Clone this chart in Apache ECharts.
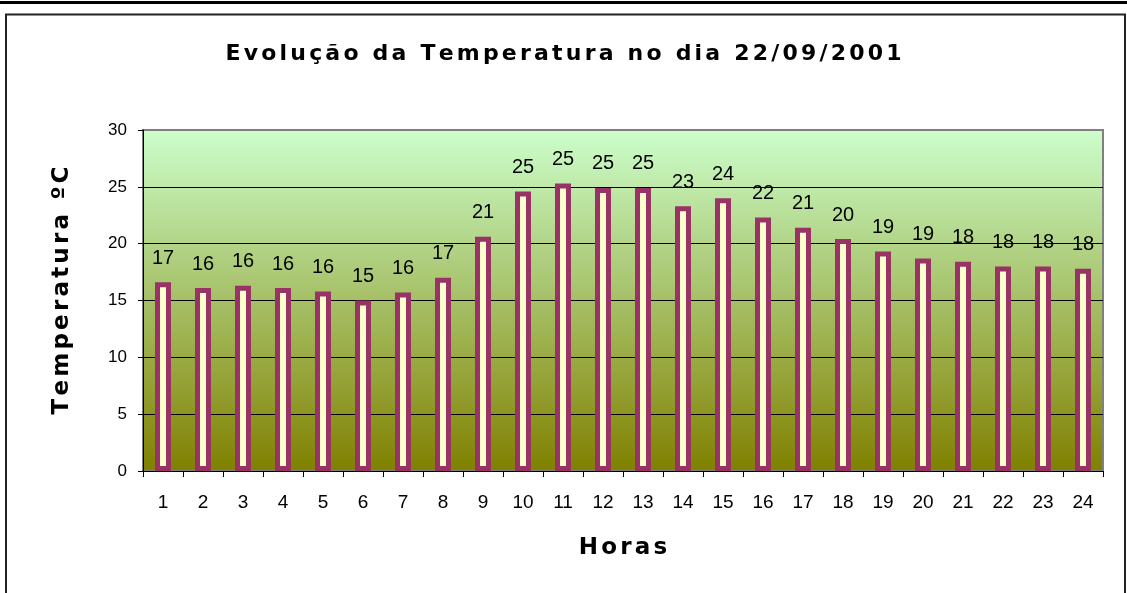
<!DOCTYPE html>
<html>
<head>
<meta charset="utf-8">
<title>Evolução da Temperatura</title>
<script src="https://cdn.jsdelivr.net/npm/echarts@6/dist/echarts.min.js"></script>
<style>
  html, body { margin: 0; padding: 0; background: #fff; }
  #chart { width: 1127px; height: 593px; }
</style>
</head>
<body>
<div id="chart"></div>
<script>
// Hourly temperature readings (ºC) for 22/09/2001
const horas = ['1','2','3','4','5','6','7','8','9','10','11','12','13','14','15','16','17','18','19','20','21','22','23','24'];
const temperaturas = [16.6, 16.1, 16.3, 16.1, 15.8, 15.0, 15.7, 17.0, 20.6, 24.6, 25.3, 24.9, 24.9, 23.3, 24.0, 22.3, 21.4, 20.4, 19.3, 18.7, 18.4, 18.0, 18.0, 17.8];
const yTicks = [0, 5, 10, 15, 20, 25, 30];

const tituloTexto = 'Evolução da Temperatura no dia 22/09/2001';
const eixoYTexto = 'Temperatura ºC';
const eixoXTexto = 'Horas';

const HEAD_FONT = '"DejaVu Sans", Verdana, sans-serif';
const NUM_FONT = '"Liberation Sans", Arial, Helvetica, sans-serif';

// Wrap every character in a rich-text token so padding can widen the tracking
function tracked(str, style) {
  return str.split('').map(ch => '{' + style + '|' + ch + '}').join('');
}

const chart = echarts.init(document.getElementById('chart'), null, { renderer: 'canvas' });

chart.setOption({
  animation: false,
  backgroundColor: '#ffffff',
  textStyle: { fontFamily: NUM_FONT, color: '#000' },
  graphic: [
    // heavy rule across the top
    { type: 'rect', left: 0, top: 1, shape: { x: 0, y: 0, width: 1127, height: 3 }, style: { fill: '#000' }, silent: true },
    // frame around the chart
    { type: 'rect', shape: { x: 6, y: 14.5, width: 1119, height: 600 }, style: { fill: 'none', stroke: '#222', lineWidth: 2 }, silent: true, z: -1 }
  ],
  title: {
    text: tracked(tituloTexto, 't'),
    left: 'center',
    top: 38,
    textStyle: {
      rich: { t: { fontFamily: HEAD_FONT, fontSize: 22, fontWeight: 'bold', color: '#000', padding: [0, 1.6] } }
    }
  },
  grid: {
    left: 143,
    right: 24,
    top: 130,
    bottom: 122,
    show: true,
    borderColor: '#808080',
    borderWidth: 2,
    backgroundColor: new echarts.graphic.LinearGradient(0, 0, 0, 1, [
      { offset: 0, color: '#ccffcc' },
      { offset: 1, color: '#808000' }
    ])
  },
  xAxis: {
    type: 'category',
    data: horas,
    name: tracked(eixoXTexto, 'x'),
    nameLocation: 'middle',
    nameGap: 66,
    nameTextStyle: {
      rich: { x: { fontFamily: HEAD_FONT, fontSize: 23, fontWeight: 'bold', color: '#000', padding: [0, 1.6] } }
    },
    axisLine: { lineStyle: { color: '#000', width: 1 } },
    axisTick: { show: true, length: 6, lineStyle: { color: '#000' } },
    axisLabel: { fontFamily: NUM_FONT, fontSize: 19, color: '#000', margin: 22 },
    splitLine: { show: false }
  },
  yAxis: {
    type: 'value',
    min: yTicks[0],
    max: yTicks[yTicks.length - 1],
    interval: yTicks[1] - yTicks[0],
    name: tracked(eixoYTexto, 'y'),
    nameLocation: 'middle',
    nameGap: 69,
    nameTextStyle: {
      padding: [0, 0, 0, 20],
      rich: { y: { fontFamily: HEAD_FONT, fontSize: 23, fontWeight: 'bold', color: '#000', padding: [0, 1.6] } }
    },
    axisLine: { show: true, lineStyle: { color: '#000', width: 1 } },
    axisTick: { show: true, length: 5, lineStyle: { color: '#000' } },
    axisLabel: { fontFamily: NUM_FONT, fontSize: 17, color: '#000', margin: 16 },
    splitLine: {
      show: true,
      lineStyle: { color: ['#000', '#000', '#000', '#000', '#000', '#000', '#808080'], width: 1 }
    }
  },
  series: [{
    type: 'bar',
    data: temperaturas,
    barWidth: 16,
    itemStyle: { color: '#ffffcc', borderColor: '#993366', borderWidth: 5 },
    label: {
      show: true,
      position: 'top',
      distance: 14,
      fontFamily: NUM_FONT,
      fontSize: 20,
      color: '#000',
      formatter: p => String(Math.round(p.value))
    }
  }]
});
</script>
</body>
</html>
